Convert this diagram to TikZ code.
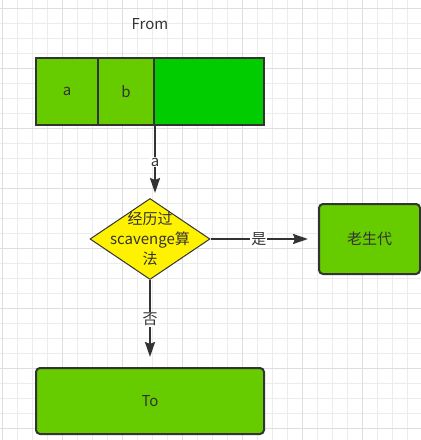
\documentclass[tikz,border=0pt]{standalone}
\usepackage{fontspec}
\setmainfont{Noto Sans CJK SC}
\usepackage{tikz}
\usetikzlibrary{shapes.geometric,arrows.meta}
\definecolor{cellgreen}{RGB}{102,204,0}
\definecolor{freegreen}{RGB}{0,204,0}
\definecolor{inkgray}{RGB}{51,51,51}
\definecolor{gridminor}{RGB}{236,236,236}
\definecolor{gridmajor}{RGB}{222,222,222}

\begin{document}
\begin{tikzpicture}[x=1pt,y=-1pt,
	font=\fontsize{15}{20}\selectfont, text=inkgray,
	cell/.style={draw=inkgray, line width=2pt, fill=cellgreen, inner sep=0pt},
	roundbox/.style={cell, rounded corners=4pt},
	conn/.style={draw=inkgray, line width=2pt, -{Stealth[length=15pt,width=10pt,inset=2pt]}},
	edgelabel/.style={fill=white, inner sep=1pt}]
	\useasboundingbox (0,0) rectangle (421,440);
	\fill[white] (0,0) rectangle (421,440);
	
	% grid
	\foreach \i in {0,...,27}
		\draw[gridminor] ({2.5+15*\i},0) -- ({2.5+15*\i},440);
	\foreach \i in {0,...,29}
		\draw[gridminor] (0,{8+15*\i}) -- (421,{8+15*\i});
	\foreach \i in {0,...,6}
		\draw[gridmajor] ({2.5+60*\i},0) -- ({2.5+60*\i},440);
	\foreach \i in {0,...,7}
		\draw[gridmajor] (0,{8+60*\i}) -- (421,{8+60*\i});
	
	\node (from) at (150,24) {From};
	
	\node[cell, minimum width=62pt, minimum height=67pt] (a) at (67,91.5) {a};
	\node[cell, minimum width=56pt, minimum height=67pt] (b) at (126,91.5) {b};
	\node[cell, fill=freegreen, minimum width=110pt, minimum height=67pt] (free) at (209,91.5) {};
	
	\node[diamond, draw=inkgray, line width=1pt, fill=yellow, inner sep=0pt,
		minimum width=120pt, minimum height=81pt] (dec) at (150,239) {};
	\node[align=center] (dectext) at (dec) {经历过\\scavenge算\\法};
	
	\node[roundbox, minimum width=101pt, minimum height=70pt] (old) at (369.5,239) {老生代};
	\node[roundbox, minimum width=228pt, minimum height=66pt] (to) at (150,401) {To};
	
	\draw[conn, shorten >=5pt] (b.south east) -- node[edgelabel] {a} (b.south east |- dec.north);
	\draw[conn, shorten >=10pt] (dec.east) -- node[edgelabel, pos=0.45] {是} (old.west);
	\draw[conn, shorten >=10pt] (dec.south) -- node[edgelabel, pos=0.45] {否} (to.north);
\end{tikzpicture}
\end{document}
